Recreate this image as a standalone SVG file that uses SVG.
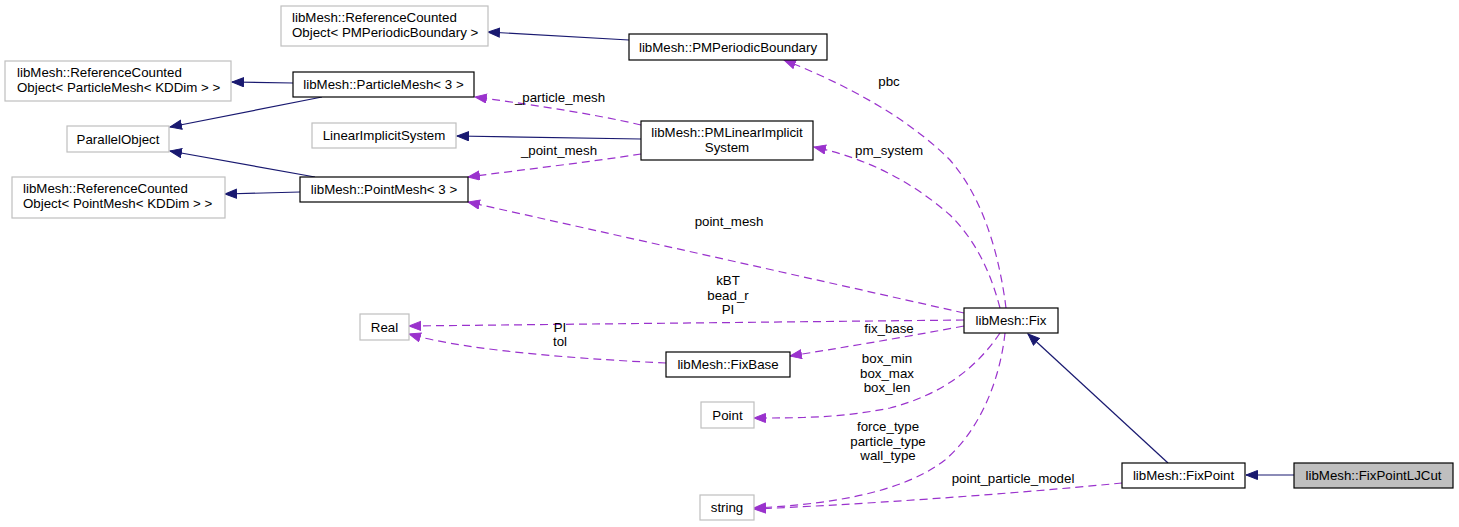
<svg xmlns="http://www.w3.org/2000/svg" width="1459" height="527" viewBox="0 0 1459 527">
<style>
text{font-family:"Liberation Sans",Arial,sans-serif;font-size:13.3px;fill:#000}
.c{text-anchor:middle}
.nb{fill:#fff;stroke:#000;stroke-width:1.2}
.ng{fill:#fff;stroke:#bfbfbf;stroke-width:1.2}
.nh{fill:#bfbfbf;stroke:#000;stroke-width:1.2}
.inh{fill:none;stroke:#191970;stroke-width:1.2;marker-end:url(#ab)}
.use{fill:none;stroke:#9a32cd;stroke-width:1.2;stroke-dasharray:8,5;marker-end:url(#ap)}
</style>
<defs>
<marker id="ab" markerWidth="14" markerHeight="12" refX="12" refY="5" orient="auto" markerUnits="userSpaceOnUse"><path d="M0.5,0.5 L12,5 L0.5,9.5 z" fill="#191970" stroke="#191970"/></marker>
<marker id="ap" markerWidth="14" markerHeight="12" refX="12" refY="5" orient="auto" markerUnits="userSpaceOnUse"><path d="M0.5,0.5 L12,5 L0.5,9.5 z" fill="#9a32cd" stroke="#9a32cd"/></marker>
</defs>
<rect width="1459" height="527" fill="#fff"/>
<g id="edges">
<path class="inh" d="M629,40 L488,32"/>
<path class="inh" d="M293,83 L232,82"/>
<path class="inh" d="M322,97 L170,127"/>
<path class="inh" d="M641,139 L457,136"/>
<path class="inh" d="M315,177 L170,151"/>
<path class="inh" d="M300,192 L225,194"/>
<path class="inh" d="M1168,463 L1028,334"/>
<path class="inh" d="M1294,475 L1246,475"/>
<path class="use" d="M641,125 C590,113 520,103 475,97"/>
<path class="use" d="M641,154 C590,162 520,170 468,177"/>
<path class="use" d="M1006,308 C1000,260 985,200 950,160 C905,115 840,82 784,60"/>
<path class="use" d="M1000,308 C990,270 975,240 950,215 C910,180 865,158 814,147"/>
<path class="use" d="M964,313 C800,276 620,236 468,202"/>
<path class="use" d="M964,320 L409,326"/>
<path class="use" d="M666,363 C600,360 470,352 409,334"/>
<path class="use" d="M964,326 C900,338 840,348 790,356"/>
<path class="use" d="M1000,333 C975,370 940,395 890,408 C840,418 800,418 754,418"/>
<path class="use" d="M1005,333 C1000,380 980,430 945,460 C900,495 820,505 754,508"/>
<path class="use" d="M1122,483 C1000,495 850,505 754,509"/>
<text class="c" x="560" y="102">_particle_mesh</text>
<text class="c" x="559" y="155">_point_mesh</text>
<text class="c" x="889" y="86">pbc</text>
<text class="c" x="889" y="155">pm_system</text>
<text class="c" x="729" y="226">point_mesh</text>
<text class="c" x="728" y="285">kBT</text>
<text class="c" x="728" y="300">bead_r</text>
<text class="c" x="728" y="314">PI</text>
<text class="c" x="560" y="332">PI</text>
<text class="c" x="560" y="346">tol</text>
<text class="c" x="889" y="333">fix_base</text>
<text class="c" x="887" y="363">box_min</text>
<text class="c" x="887" y="378">box_max</text>
<text class="c" x="887" y="392">box_len</text>
<text class="c" x="888" y="431">force_type</text>
<text class="c" x="888" y="446">particle_type</text>
<text class="c" x="888" y="460">wall_type</text>
<text class="c" x="1013" y="483">point_particle_model</text>
</g>
<g id="n_rc_pmpb"><rect class="ng" x="281" y="6" width="207" height="40"/><text x="292" y="21.5">libMesh::ReferenceCounted</text><text x="292" y="37">Object&lt; PMPeriodicBoundary &gt;</text></g>
<g id="n_pmpb"><rect class="nb" x="629" y="34" width="198" height="26"/><text class="c" x="728" y="51.5">libMesh::PMPeriodicBoundary</text></g>
<g id="n_rc_pm"><rect class="ng" x="5" y="61" width="226" height="40"/><text x="17" y="76.5">libMesh::ReferenceCounted</text><text x="17" y="92">Object&lt; ParticleMesh&lt; KDDim &gt; &gt;</text></g>
<g id="n_pm3"><rect class="nb" x="293" y="72" width="181" height="25"/><text class="c" x="383.5" y="89">libMesh::ParticleMesh&lt; 3 &gt;</text></g>
<g id="n_po"><rect class="ng" x="67" y="126" width="102" height="26"/><text class="c" x="118" y="143.5">ParallelObject</text></g>
<g id="n_lis"><rect class="ng" x="312" y="123" width="144" height="25"/><text class="c" x="384" y="140">LinearImplicitSystem</text></g>
<g id="n_pmlis"><rect class="nb" x="641" y="121" width="172" height="39"/><text class="c" x="727" y="137">libMesh::PMLinearImplicit</text><text class="c" x="727" y="152">System</text></g>
<g id="n_rc_ptm"><rect class="ng" x="12" y="177" width="213" height="41"/><text x="23" y="192.5">libMesh::ReferenceCounted</text><text x="23" y="208">Object&lt; PointMesh&lt; KDDim &gt; &gt;</text></g>
<g id="n_ptm3"><rect class="nb" x="300" y="177" width="168" height="25"/><text class="c" x="384" y="194">libMesh::PointMesh&lt; 3 &gt;</text></g>
<g id="n_real"><rect class="ng" x="360" y="314" width="49" height="26"/><text class="c" x="384.5" y="331.5">Real</text></g>
<g id="n_fix"><rect class="nb" x="964" y="308" width="94" height="25"/><text class="c" x="1011" y="325">libMesh::Fix</text></g>
<g id="n_fixbase"><rect class="nb" x="666" y="352" width="124" height="25"/><text class="c" x="728" y="369">libMesh::FixBase</text></g>
<g id="n_point"><rect class="ng" x="701" y="402" width="53" height="26"/><text class="c" x="727.5" y="419.5">Point</text></g>
<g id="n_string"><rect class="ng" x="700" y="495" width="54" height="25"/><text class="c" x="727" y="512">string</text></g>
<g id="n_fixpoint"><rect class="nb" x="1122" y="463" width="123" height="25"/><text class="c" x="1183.5" y="480">libMesh::FixPoint</text></g>
<g id="n_fixpointljcut"><rect class="nh" x="1294" y="463" width="159" height="25"/><text class="c" x="1373.5" y="480">libMesh::FixPointLJCut</text></g>
</svg>
